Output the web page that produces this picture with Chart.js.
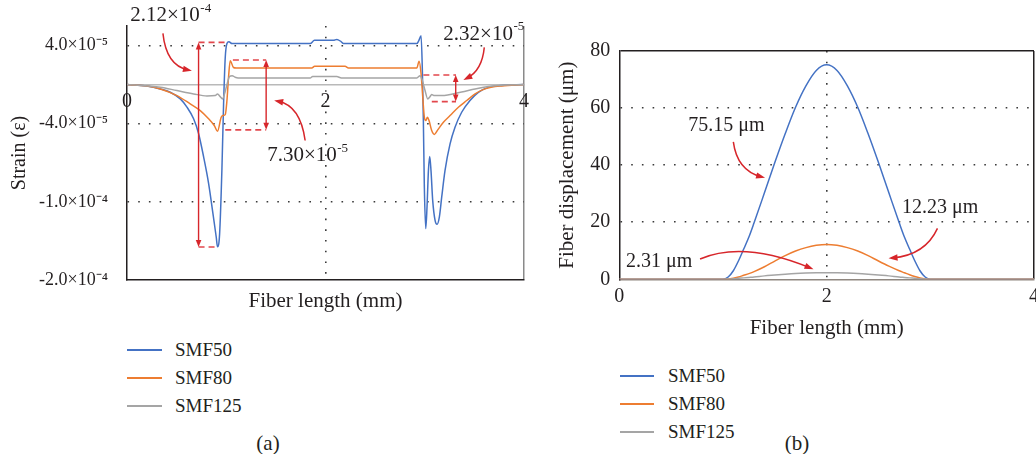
<!DOCTYPE html>
<html><head><meta charset="utf-8">
<script src="https://cdn.jsdelivr.net/npm/chart.js@4.4.1/dist/chart.umd.min.js"></script>
<style>
html,body{margin:0;padding:0;background:#fff;width:1036px;height:454px;overflow:hidden;font-family:"Liberation Serif","Times New Roman",serif;color:#231f20}
#wrapA{position:absolute;left:0;top:0;width:536px;height:320px}
#wrapB{position:absolute;left:540px;top:0;width:496px;height:350px}
.legtxt{position:absolute;font-size:19px;line-height:22px;white-space:nowrap}
.sw{position:absolute;height:2px}
.cap{position:absolute;font-size:21px;line-height:24px;white-space:nowrap;transform:translateX(-50%)}
</style></head>
<body>
<div id="wrapA"><canvas id="strainChart" width="536" height="320"></canvas></div>
<div id="wrapB"><canvas id="dispChart" width="496" height="350"></canvas></div>
<div id="legends"></div>
<script>
// ---------------- data ----------------
const seriesNames = ['SMF50', 'SMF80', 'SMF125'];
const seriesColors = ['#4472c4', '#ed7d31', '#a5a5a5'];

const lengthTicks = [0, 2, 4];
const lengthTickLabels = ['0', '2', '4'];
const strainTicks = [-2e-4, -1.2e-4, -4e-5, 4e-5];
const strainTickLabels = ['-2.0×10⁻⁴', '-1.0×10⁻⁴', '-4.0×10⁻⁵', '4.0×10⁻⁵'];
const displacementTicks = [0, 20, 40, 60, 80];
const displacementTickLabels = ['0', '20', '40', '60', '80'];

// (a) strain along the fiber
const strainX_SMF50 = [0, 0.2, 0.336, 0.436, 0.537, 0.604, 0.671, 0.721, 0.772, 0.822, 0.866, 0.899, 0.912, 0.933, 0.956, 0.973, 0.990, 1.007, 1.027, 1.057, 1.10, 1.846, 1.889, 2.08, 2.114, 2.157, 2.181, 2.92, 2.936, 2.963, 2.976, 2.986, 2.996, 3.010, 3.023, 3.037, 3.050, 3.063, 3.080, 3.104, 3.124, 3.147, 3.171, 3.204, 3.255, 3.305, 3.372, 3.456, 3.540, 3.641, 3.775, 4.0];
const strain_SMF50 = [0, -1.5e-6, -4.4e-6, -7.8e-6, -1.46e-5, -2.3e-5, -3.5e-5, -5.0e-5, -7.4e-5, -1.01e-4, -1.32e-4, -1.56e-4, -1.66e-4, -1.53e-4, -8.8e-5, -2.0e-5, 2.8e-5, 4.2e-5, 4.4e-5, 4.2e-5, 4.2e-5, 4.2e-5, 4.53e-5, 4.53e-5, 4.63e-5, 4.4e-5, 4.2e-5, 4.2e-5, 4.42e-5, 5.0e-5, 1.43e-5, -3.68e-5, -1.05e-4, -1.474e-4, -1.25e-4, -8.8e-5, -7.36e-5, -8.8e-5, -1.185e-4, -1.39e-4, -1.43e-4, -1.356e-4, -1.15e-4, -8.8e-5, -6.06e-5, -4.36e-5, -2.83e-5, -1.63e-5, -7.9e-6, -2.8e-6, -1.0e-6, 0];

const strainX_SMF80 = [0, 0.2, 0.336, 0.503, 0.637, 0.738, 0.822, 0.879, 0.912, 0.949, 0.966, 0.990, 1.007, 1.023, 1.040, 1.073, 1.10, 1.862, 1.89, 2.197, 2.231, 2.92, 2.943, 2.963, 2.980, 2.996, 3.010, 3.027, 3.043, 3.070, 3.097, 3.131, 3.188, 3.255, 3.339, 3.423, 3.507, 3.607, 3.775, 4.0];
const strain_SMF80 = [0, -1.5e-6, -4.4e-6, -1.12e-5, -1.97e-5, -2.66e-5, -3.5e-5, -4.19e-5, -4.77e-5, -3.34e-5, -3.17e-5, -3.07e-5, -1.63e-5, 7.5e-6, 2.45e-5, 1.75e-5, 1.7e-5, 1.7e-5, 1.87e-5, 1.87e-5, 1.7e-5, 1.7e-5, 2.38e-5, 1.09e-5, -1.3e-5, -3.34e-5, -3.68e-5, -3.34e-5, -3.68e-5, -4.7e-5, -5.1e-5, -4.63e-5, -3.85e-5, -3.17e-5, -2.32e-5, -1.63e-5, -9.5e-6, -4.4e-6, -1.3e-6, 0];

const strainX_SMF125 = [0, 0.336, 0.503, 0.671, 0.805, 0.889, 0.912, 0.939, 0.963, 0.983, 1.007, 1.033, 1.060, 1.090, 1.12, 1.846, 1.87, 2.114, 2.16, 2.92, 2.953, 2.976, 3.003, 3.030, 3.053, 3.070, 3.097, 3.171, 3.372, 3.507, 3.641, 3.81, 4.0];
const strain_SMF125 = [0, -2.7e-6, -6.1e-6, -9.5e-6, -1.16e-5, -1.12e-5, -9.5e-6, -1.23e-5, -1.46e-5, -9.5e-6, 0, 8.2e-6, 9.2e-6, 7.5e-6, 6.8e-6, 6.8e-6, 8.2e-6, 8.2e-6, 6.8e-6, 6.8e-6, 9.2e-6, 4.1e-6, -6.1e-6, -1.46e-5, -1.23e-5, -1.02e-5, -1.12e-5, -1.12e-5, -7.5e-6, -4.4e-6, -2.0e-6, -3e-7, 0];

// (b) fiber displacement
const displacementX = [0, 0.5, 0.9, 1.0, 1.05, 1.1, 1.15, 1.2, 1.25, 1.3, 1.4, 1.5, 1.6, 1.7, 1.8, 1.9, 2.0, 2.1, 2.2, 2.3, 2.4, 2.5, 2.6, 2.7, 2.75, 2.8, 2.85, 2.9, 2.95, 3.0, 3.1, 3.5, 4.0];
const displacement_SMF50 = [0, 0, 0, 0, 0.8, 3.0, 6.5, 10.6, 14.8, 19.8, 30.3, 40.9, 51.0, 60.3, 67.8, 73.2, 75.15, 73.2, 67.8, 60.3, 51.0, 40.9, 30.3, 19.8, 14.8, 10.6, 6.5, 3.0, 0.8, 0, 0, 0, 0];
const displacement_SMF80 = [0, 0, 0, 0, 0.1, 0.4, 0.8, 1.4, 2.0, 2.7, 4.4, 6.4, 8.3, 9.9, 11.1, 11.9, 12.23, 11.9, 11.1, 9.9, 8.3, 6.4, 4.6, 3.0, 2.3, 1.6, 1.0, 0.5, 0.15, 0, 0, 0, 0];
const displacement_SMF125 = [0, 0, 0, 0.05, 0.1, 0.2, 0.35, 0.5, 0.65, 0.8, 1.2, 1.5, 1.8, 2.05, 2.2, 2.28, 2.31, 2.28, 2.2, 2.05, 1.8, 1.5, 1.2, 0.8, 0.65, 0.5, 0.35, 0.2, 0.1, 0.05, 0, 0, 0];

// ---------------- annotations (data units) ----------------
const strainNotes = [
  {type: 'hdash', y: 4.32e-5, x1: 0.721, x2: 0.99},
  {type: 'hdash', y: -1.662e-4, x1: 0.721, x2: 0.912},
  {type: 'varrow', x: 0.721, y1: 4.32e-5, y2: -1.662e-4},
  {type: 'curve', from: [0.362, 5.24e-5], ctrl: [0.396, 1.94e-5], to: [0.654, 1.43e-5]},
  {type: 'label', x: 0.033, y: 7.05e-5, text: '2.12×10', sup: '-4'},

  {type: 'hdash', y: 2.52e-5, x1: 1.067, x2: 1.402},
  {type: 'hdash', y: -4.63e-5, x1: 0.99, x2: 1.402},
  {type: 'varrow', x: 1.402, y1: 2.52e-5, y2: -4.63e-5},
  {type: 'curve', from: [1.795, -5.72e-5], ctrl: [1.746, -2.15e-5], to: [1.483, -1.63e-5]},
  {type: 'label', x: 1.412, y: -7.25e-5, text: '7.30×10', sup: '-5'},

  {type: 'hdash', y: 9.9e-6, x1: 2.986, x2: 3.315},
  {type: 'hdash', y: -1.74e-5, x1: 3.071, x2: 3.315},
  {type: 'varrow', x: 3.312, y1: 9.9e-6, y2: -1.74e-5},
  {type: 'curve', from: [3.600, 3.81e-5], ctrl: [3.577, 1.43e-5], to: [3.389, 4.8e-6]},
  {type: 'label', x: 3.187, y: 5.18e-5, text: '2.32×10', sup: '-5'}
];
const displacementNotes = [
  {type: 'label', x: 0.666, y: 53.75, text: '75.15 μm', size: 20},
  {type: 'curve', from: [1.100, 48.15], ctrl: [1.136, 38.15], to: [1.406, 35.56]},
  {type: 'label', x: 2.726, y: 25.06, text: '12.23 μm', size: 20},
  {type: 'curve', from: [3.069, 17.85], ctrl: [2.951, 8.5], to: [2.597, 7.35]},
  {type: 'label', x: 0.065, y: 6.16, text: '2.31 μm', size: 20},
  {type: 'curve', from: [0.779, 7.1], ctrl: [1.197, 13.57], to: [1.873, 3.5]}
];

// ---------------- rendering ----------------
const FONT = '"Liberation Serif", "Times New Roman", serif';
const INK = '#231f20';
const DOT = '#3a3a3a';
const RED = '#d7262b';
const RED_DASH = '#e2474c';
const dotted = [1.6, 9.1];
Chart.defaults.font.family = FONT;
Chart.defaults.color = INK;

function pts(xs, ys) { return xs.map((x, i) => ({x: x, y: ys[i]})); }

function arrowHead(ctx, x, y, ang, len, hw) {
  const c = Math.cos(ang), s = Math.sin(ang);
  ctx.beginPath();
  ctx.moveTo(x, y);
  ctx.lineTo(x - len * c + hw * s, y - len * s - hw * c);
  ctx.lineTo(x - len * c - hw * s, y - len * s + hw * c);
  ctx.closePath();
  ctx.fill();
}

const notesPlugin = {
  id: 'notes',
  afterDraw(chart, args, opts) {
    const ctx = chart.ctx;
    const X = v => chart.scales.x.getPixelForValue(v);
    const Y = v => chart.scales.y.getPixelForValue(v);
    ctx.save();
    (opts.items || []).forEach(it => {
      if (it.type === 'hdash') {
        ctx.strokeStyle = RED_DASH; ctx.lineWidth = 1.6; ctx.setLineDash([6, 4]);
        ctx.beginPath(); ctx.moveTo(X(it.x1), Y(it.y)); ctx.lineTo(X(it.x2), Y(it.y)); ctx.stroke();
        ctx.setLineDash([]);
      } else if (it.type === 'varrow') {
        const x = X(it.x), y1 = Y(it.y1), y2 = Y(it.y2);
        ctx.strokeStyle = RED; ctx.fillStyle = RED; ctx.lineWidth = 1.4;
        ctx.beginPath(); ctx.moveTo(x, y1 + 4); ctx.lineTo(x, y2 - 4); ctx.stroke();
        arrowHead(ctx, x, y1, -Math.PI / 2, 7, 2.8);
        arrowHead(ctx, x, y2, Math.PI / 2, 7, 2.8);
      } else if (it.type === 'curve') {
        const p0 = [X(it.from[0]), Y(it.from[1])], c = [X(it.ctrl[0]), Y(it.ctrl[1])], p1 = [X(it.to[0]), Y(it.to[1])];
        const ang = Math.atan2(p1[1] - c[1], p1[0] - c[0]);
        ctx.strokeStyle = RED; ctx.fillStyle = RED; ctx.lineWidth = 1.5;
        ctx.beginPath(); ctx.moveTo(p0[0], p0[1]);
        ctx.quadraticCurveTo(c[0], c[1], p1[0] - 4 * Math.cos(ang), p1[1] - 4 * Math.sin(ang));
        ctx.stroke();
        arrowHead(ctx, p1[0], p1[1], ang, 9, 3.2);
      } else if (it.type === 'label') {
        const size = it.size || 21;
        const px = X(it.x), py = Y(it.y);
        ctx.fillStyle = INK; ctx.textAlign = 'left'; ctx.textBaseline = 'middle';
        ctx.font = size + 'px ' + FONT;
        ctx.fillText(it.text, px, py);
        if (it.sup) {
          const w = ctx.measureText(it.text).width;
          ctx.font = Math.round(size * 0.62) + 'px ' + FONT;
          ctx.fillText(it.sup, px + w + 0.5, py - 7);
        }
      }
    });
    ctx.restore();
  }
};
Chart.register(notesPlugin);

function makeDatasets(xsList, ysList) {
  return seriesNames.map((name, i) => ({
    label: name,
    data: pts(xsList[i], ysList[i]),
    borderColor: seriesColors[i],
    backgroundColor: seriesColors[i],
    borderWidth: 1.5,
    pointRadius: 0,
    fill: false,
    cubicInterpolationMode: 'monotone',
    order: 3 - i
  }));
}
const tickVal = ctx => (ctx && ctx.tick) ? ctx.tick.value : null;
const setTicks = arr => (s => { s.ticks = arr.map(v => ({value: v})); });

// ---- chart (a) ----
new Chart(document.getElementById('strainChart'), {
  type: 'line',
  data: {datasets: makeDatasets(
    [strainX_SMF50, strainX_SMF80, strainX_SMF125],
    [strain_SMF50, strain_SMF80, strain_SMF125])},
  options: {
    responsive: false, animation: false,
    layout: {padding: {left: 0, right: 12, top: 26, bottom: 0}},
    plugins: {legend: {display: false}, tooltip: {enabled: false}, notes: {items: strainNotes}},
    scales: {
      x: {
        type: 'linear', min: 0, max: 4, position: 'bottom',
        afterBuildTicks: setTicks(lengthTicks),
        ticks: {display: false},
        grid: {drawTicks: false,
          color: c => tickVal(c) === 2 ? DOT : (tickVal(c) === 4 ? '#8a8a8a' : 'rgba(0,0,0,0)'),
          lineWidth: c => tickVal(c) === 2 ? 1.6 : 1.5},
        border: {color: INK, width: 1.5, dash: c => tickVal(c) === 2 ? dotted : []},
        title: {display: true, text: 'Fiber length (mm)', font: {size: 21}, color: INK, padding: {top: 0, bottom: 6}},
        afterFit: s => { s.height = 40; s.paddingLeft = 0; s.paddingRight = 0; }
      },
      x2: {
        type: 'linear', min: 0, max: 4, position: {y: 0},
        afterBuildTicks: setTicks(lengthTicks),
        ticks: {font: {size: 20}, padding: 5, maxRotation: 0, color: INK,
          callback: (v, i) => lengthTickLabels[i]},
        grid: {display: false, drawTicks: false},
        border: {color: '#b9b9b9', width: 1.5},
        afterFit: s => { s.paddingLeft = 0; s.paddingRight = 0; }
      },
      y: {
        type: 'linear', min: -2e-4, max: 6e-5,
        afterBuildTicks: setTicks(strainTicks),
        ticks: {font: {size: 18}, padding: 19, color: INK, callback: (v, i) => strainTickLabels[i]},
        grid: {drawTicks: false,
          color: c => tickVal(c) === -2e-4 ? 'rgba(0,0,0,0)' : DOT, lineWidth: 1.6},
        border: {color: INK, width: 1.5, dash: dotted},
        title: {display: true, text: 'Strain (ε)', font: {size: 20}, color: INK, padding: {top: 8, bottom: 0}},
        afterFit: s => { s.width = 127; s.paddingTop = 0; s.paddingBottom = 0; }
      }
    }
  }
});

// ---- chart (b) ----
new Chart(document.getElementById('dispChart'), {
  type: 'line',
  data: {datasets: makeDatasets(
    [displacementX, displacementX, displacementX],
    [displacement_SMF50, displacement_SMF80, displacement_SMF125])},
  options: {
    responsive: false, animation: false,
    layout: {padding: {left: 0, right: 2, top: 51, bottom: 0}},
    plugins: {legend: {display: false}, tooltip: {enabled: false}, notes: {items: displacementNotes}},
    scales: {
      x: {
        type: 'linear', min: 0, max: 4, position: 'bottom',
        afterBuildTicks: setTicks(lengthTicks),
        ticks: {font: {size: 20}, padding: 5, maxRotation: 0, color: INK, callback: (v, i) => lengthTickLabels[i]},
        grid: {drawTicks: false,
          color: c => tickVal(c) === 2 ? DOT : (tickVal(c) === 4 ? INK : 'rgba(0,0,0,0)'),
          lineWidth: c => tickVal(c) === 2 ? 1.6 : 1.5},
        border: {color: '#8f8780', width: 1.5, dash: c => tickVal(c) === 2 ? dotted : []},
        title: {display: true, text: 'Fiber length (mm)', font: {size: 21}, color: INK, padding: {top: 0, bottom: 9}},
        afterFit: s => { s.height = 70.7; s.paddingLeft = 0; s.paddingRight = 0; }
      },
      y: {
        type: 'linear', min: 0, max: 80,
        afterBuildTicks: setTicks(displacementTicks),
        ticks: {font: {size: 20}, padding: 9, color: INK, callback: (v, i) => displacementTickLabels[i]},
        grid: {drawTicks: false,
          color: c => tickVal(c) === 0 ? 'rgba(0,0,0,0)' : (tickVal(c) === 80 ? INK : DOT),
          lineWidth: c => tickVal(c) === 80 ? 1.5 : 1.6},
        border: {color: INK, width: 1.5, dash: c => (tickVal(c) === 80 || tickVal(c) === 0) ? [] : dotted},
        title: {display: true, text: 'Fiber displacement (μm)', font: {size: 21}, color: INK, padding: {top: 15, bottom: 0}},
        afterFit: s => { s.width = 79.3; s.paddingTop = 0; s.paddingBottom = 0; }
      }
    }
  }
});

// ---- legends and captions (HTML text) ----
const legendSpecs = [
  {lineX: 127, lineW: 35, textX: 175, rows: [350, 378, 406], caption: '(a)', capX: 268, capY: 443},
  {lineX: 620, lineW: 34, textX: 668, rows: [376, 404, 432], caption: '(b)', capX: 797, capY: 443}
];
const host = document.getElementById('legends');
legendSpecs.forEach(spec => {
  seriesNames.forEach((name, i) => {
    const sw = document.createElement('div');
    sw.className = 'sw';
    sw.style.left = spec.lineX + 'px'; sw.style.width = spec.lineW + 'px';
    sw.style.top = (spec.rows[i] - 1) + 'px';
    sw.style.background = seriesColors[i];
    host.appendChild(sw);
    const t = document.createElement('div');
    t.className = 'legtxt';
    t.style.left = spec.textX + 'px'; t.style.top = (spec.rows[i] - 11) + 'px';
    t.textContent = name;
    host.appendChild(t);
  });
  const cap = document.createElement('div');
  cap.className = 'cap';
  cap.style.left = spec.capX + 'px'; cap.style.top = (spec.capY - 12) + 'px';
  cap.textContent = spec.caption;
  host.appendChild(cap);
});
</script>
</body></html>
